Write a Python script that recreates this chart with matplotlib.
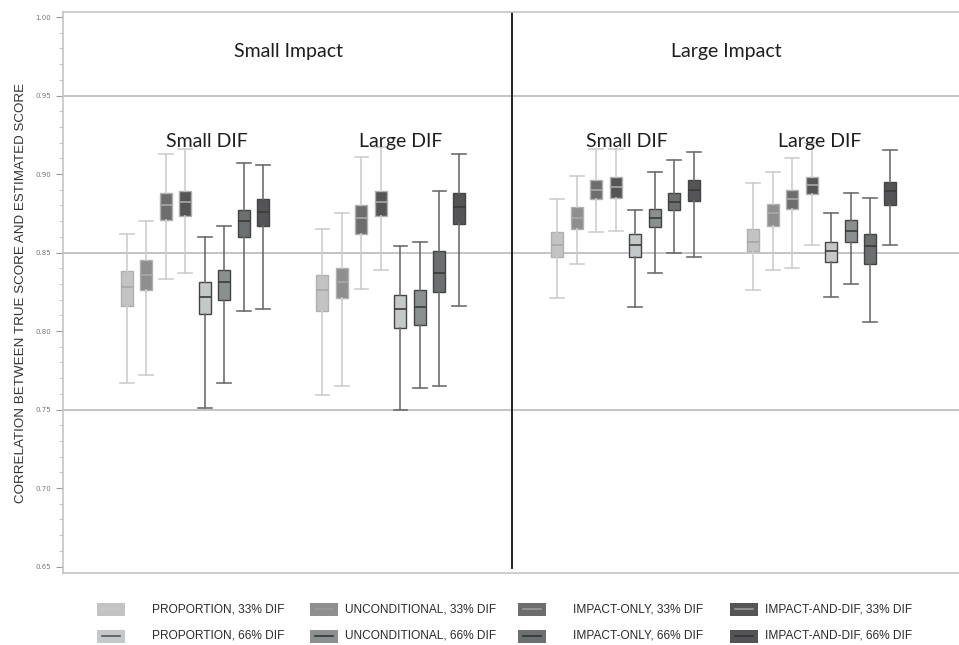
import numpy as np
import matplotlib
matplotlib.use("Agg")
import matplotlib.pyplot as plt
from matplotlib.patches import Rectangle
from matplotlib.lines import Line2D
from matplotlib.ticker import MultipleLocator, FormatStrFormatter

# box order inside each panel: 4 methods at 33% DIF, then 4 methods at 66% DIF
methods = ["PROPORTION", "UNCONDITIONAL", "IMPACT-ONLY", "IMPACT-AND-DIF"]
dif_levels = ["33% DIF", "66% DIF"]
panels = ["Small DIF", "Large DIF", "Small DIF", "Large DIF"]
impacts = ["Small Impact", "Large Impact"]

# one row per panel, 8 boxes each
whis_hi = [[0.862, 0.870, 0.913, 0.916, 0.860, 0.867, 0.907, 0.906],
           [0.865, 0.875, 0.911, 0.917, 0.854, 0.857, 0.889, 0.913],
           [0.884, 0.899, 0.916, 0.916, 0.877, 0.901, 0.909, 0.914],
           [0.894, 0.901, 0.910, 0.920, 0.875, 0.888, 0.885, 0.915]]
q3 = [[0.838, 0.845, 0.888, 0.889, 0.831, 0.839, 0.877, 0.884],
      [0.836, 0.840, 0.880, 0.889, 0.823, 0.826, 0.851, 0.888],
      [0.863, 0.879, 0.896, 0.898, 0.862, 0.878, 0.888, 0.896],
      [0.865, 0.881, 0.890, 0.898, 0.857, 0.871, 0.862, 0.895]]
med = [[0.828, 0.836, 0.880, 0.882, 0.822, 0.831, 0.870, 0.876],
       [0.826, 0.831, 0.872, 0.882, 0.814, 0.815, 0.837, 0.879],
       [0.855, 0.872, 0.890, 0.892, 0.855, 0.872, 0.882, 0.890],
       [0.857, 0.875, 0.884, 0.893, 0.851, 0.864, 0.854, 0.889]]
q1 = [[0.816, 0.826, 0.871, 0.873, 0.811, 0.820, 0.860, 0.867],
      [0.813, 0.821, 0.862, 0.873, 0.802, 0.804, 0.825, 0.868],
      [0.847, 0.865, 0.884, 0.885, 0.847, 0.866, 0.877, 0.883],
      [0.851, 0.867, 0.878, 0.887, 0.844, 0.857, 0.843, 0.880]]
whis_lo = [[0.767, 0.772, 0.833, 0.837, 0.751, 0.767, 0.813, 0.814],
           [0.759, 0.765, 0.827, 0.839, 0.750, 0.764, 0.765, 0.816],
           [0.821, 0.843, 0.863, 0.864, 0.815, 0.837, 0.850, 0.847],
           [0.826, 0.839, 0.840, 0.855, 0.822, 0.830, 0.806, 0.855]]

# styles
fill_33 = ["#c3c3c3", "#8e8e8e", "#6d6d6d", "#555555"]
fill_66 = ["#c4c8c8", "#8b8f8f", "#6b6f6f", "#545457"]
edge_33 = "#b0b0b0"
edge_66 = "#444444"
whisk_33 = "#cdcdcd"
whisk_66 = "#6e6e6e"
med_33 = "#a8a8a8"
med_66 = "#3a3a3a"

W, H = 959, 645
fig = plt.figure(figsize=(W / 100, H / 100), dpi=100)
ax = fig.add_axes([63 / W, 1 - 573 / H, (W - 63) / W + 0.02, (573 - 12) / H])

group_start = [3.27, 13.3, 25.35, 35.4]
sep_x = 23.03

for g in range(4):
    for k in range(8):
        st = [dict(med=med[g][k], q1=q1[g][k], q3=q3[g][k],
                   whislo=whis_lo[g][k], whishi=whis_hi[g][k], fliers=[])]
        m = k % 4
        if k < 4:
            fc, ec, wc, mc = fill_33[m], edge_33, whisk_33, med_33
        else:
            fc, ec, wc, mc = fill_66[m], edge_66, whisk_66, med_66
        ax.bxp(st, positions=[group_start[g] + k], widths=0.62, capwidths=0.7,
               patch_artist=True, showfliers=False,
               boxprops=dict(facecolor=fc, edgecolor=ec, linewidth=1.0),
               whiskerprops=dict(color=wc, linewidth=1.2),
               capprops=dict(color=wc, linewidth=1.2),
               medianprops=dict(color=mc, linewidth=1.2),
               manage_ticks=False)

# reference lines
for yv in [0.75, 0.85, 0.95]:
    ax.axhline(yv, color="#b4b4b4", lw=1.1, zorder=0)
ax.axvline(sep_x, ymin=0.009, ymax=1, color="#222222", lw=1.4)

ax.set_xlim(0, 45.95 + 0.02 * W / 19.5)
ax.set_ylim(0.6459, 1.0032)
ax.set_xticks([])
ax.yaxis.set_major_locator(MultipleLocator(0.05))
ax.yaxis.set_minor_locator(MultipleLocator(0.01))
ax.yaxis.set_major_formatter(FormatStrFormatter("%.2f"))
ax.tick_params(axis="y", which="major", labelsize=5, labelcolor="#777777",
               color="#999999", length=5, width=0.8)
ax.tick_params(axis="y", which="minor", color="#bbbbbb", length=3, width=0.6)
for s in ["left", "top", "bottom"]:
    ax.spines[s].set_color("#c4c4c4")
    ax.spines[s].set_linewidth(1.2)
ax.spines["right"].set_visible(False)

ax.set_ylabel("CORRELATION BETWEEN TRUE SCORE AND ESTIMATED SCORE",
              fontsize=9.6, family="Liberation Sans", color="#333333", labelpad=6)

# headers
ax.text(11.54, 0.978, impacts[0], ha="center", va="center", fontsize=14,
        family="Lato", color="#1e1e1e")
ax.text(34.0, 0.978, impacts[1], ha="center", va="center", fontsize=14,
        family="Lato", color="#1e1e1e")
dif_x = [7.36, 17.33, 28.92, 38.82]
for g in range(4):
    ax.text(dif_x[g], 0.921, panels[g], ha="center", va="center", fontsize=14,
            family="Lato", color="#1e1e1e")

# legend, drawn by hand in figure pixels
patch_x = [97, 310, 518, 730]
text_x = [152, 345, 573, 765]
row_y = [609, 636]
for r in range(2):
    for c in range(4):
        fc = fill_33[c] if r == 0 else fill_66[c]
        lc = "#c8c8c8" if r == 0 else "#555555"
        if c > 0:
            lc = "#9a9a9a" if r == 0 else "#333333"
        y0 = row_y[r]
        fig.add_artist(Rectangle((patch_x[c] / W, 1 - (y0 + 6.5) / H), 28 / W, 13 / H,
                                 transform=fig.transFigure, facecolor=fc,
                                 edgecolor="none"))
        fig.add_artist(Line2D([(patch_x[c] + 5) / W, (patch_x[c] + 23) / W],
                              [1 - y0 / H, 1 - y0 / H], transform=fig.transFigure,
                              color=lc, lw=1.2))
        fig.text(text_x[c] / W, 1 - y0 / H, methods[c] + ", " + dif_levels[r],
                 fontsize=8.6, family="Liberation Sans", color="#2a2a2a",
                 va="center", ha="left")

fig.savefig("out.png", dpi=100)
